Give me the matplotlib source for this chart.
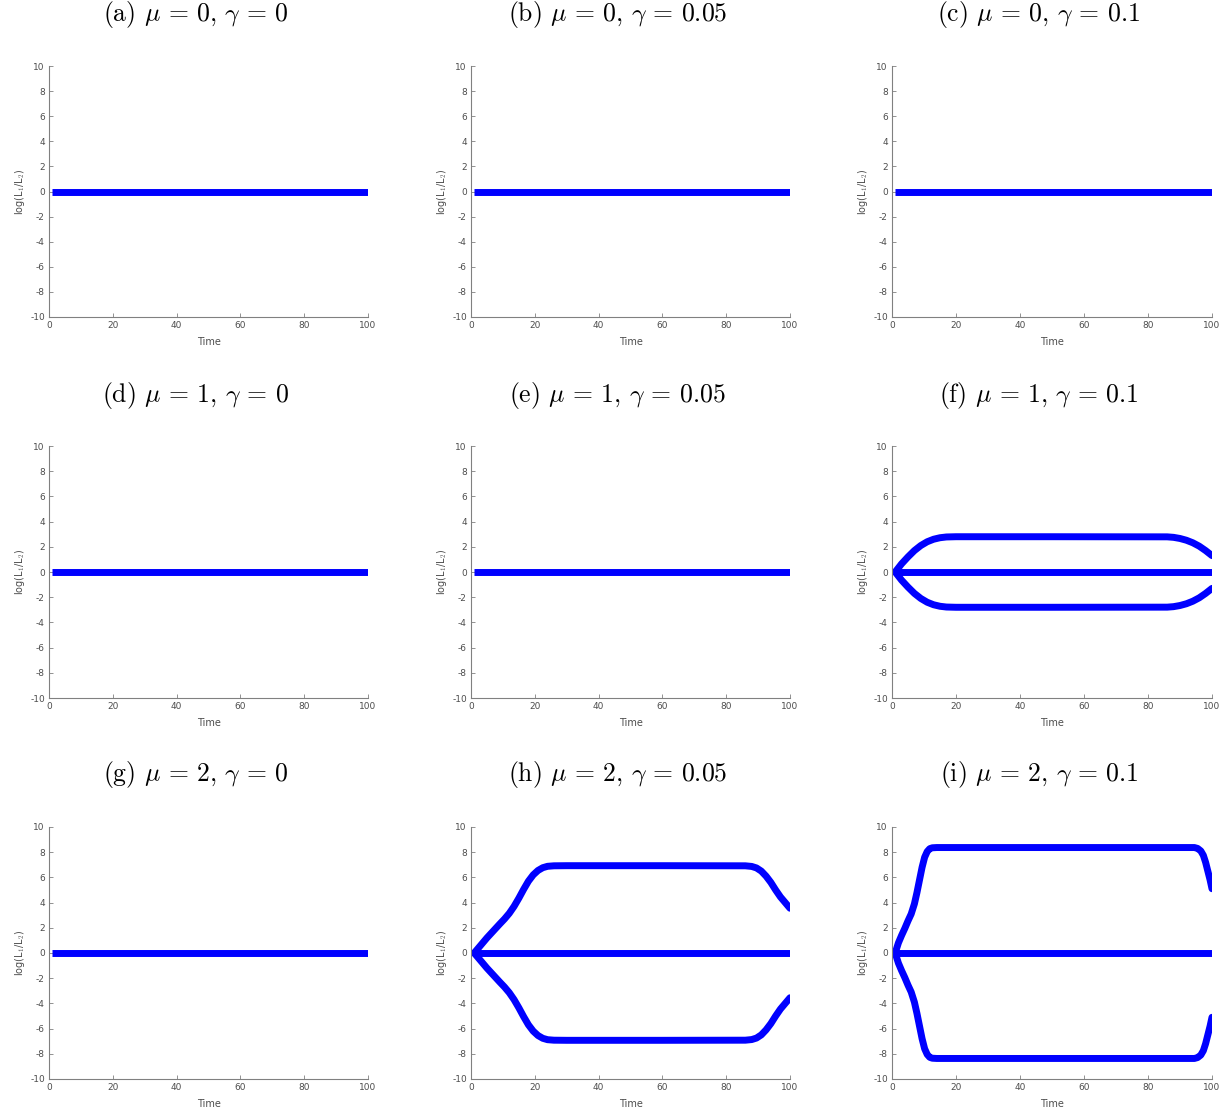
import numpy as np
import matplotlib
matplotlib.use("Agg")
import matplotlib.pyplot as plt

plt.rcParams['mathtext.fontset'] = 'cm'
plt.rcParams['axes.unicode_minus'] = False

# panel titles (row by row)
labels = ['(a)', '(b)', '(c)', '(d)', '(e)', '(f)', '(g)', '(h)', '(i)']
mus = [0, 0, 0, 1, 1, 1, 2, 2, 2]
gammas = ['0', '0.05', '0.1', '0', '0.05', '0.1', '0', '0.05', '0.1']

# flat line at zero (all panels)
t_zero = [1, 100]
y_zero = [0, 0]

# panel (f) upper branch (lower branch is its mirror)
t_f = [1, 3, 5, 7, 9, 11, 13, 15, 17, 20, 50, 86, 88, 90, 92, 94, 96, 98, 100]
y_f = [0, 0.65, 1.2, 1.7, 2.1, 2.4, 2.6, 2.72, 2.78, 2.8, 2.8, 2.79, 2.75, 2.66, 2.52, 2.32, 2.05, 1.7, 1.3]

# panel (h) upper branch
t_h = [1, 3, 5, 7, 9, 10.5, 12, 13.5, 15, 16.5, 18, 19.5, 21, 22.5, 24, 26, 30, 60, 86, 88, 89.5, 91,
       92.5, 94, 95.5, 97, 98.5, 100]
y_h = [0, 0.6, 1.2, 1.75, 2.3, 2.7, 3.15, 3.7, 4.35, 5.05, 5.7, 6.2, 6.55, 6.77, 6.88, 6.92, 6.93, 6.93, 6.92, 6.87,
       6.75, 6.5, 6.1, 5.6, 5.0, 4.45, 4.0, 3.55]

# panel (i) upper branch
t_i = [1, 2, 3, 4, 5, 6, 7, 7.8, 8.6, 9.4, 10.2, 11, 11.8, 12.6, 14, 20, 60, 94.5, 95.5, 96.5, 97.3,
       98, 98.7, 99.4, 100]
y_i = [0, 0.8, 1.4, 1.95, 2.55, 3.1, 3.9, 4.8, 5.8, 6.8, 7.6, 8.05, 8.28, 8.35, 8.37, 8.37, 8.37, 8.37, 8.3,
       8.1, 7.75, 7.2, 6.5, 5.8, 5.1]

branches = {5: (t_f, y_f), 7: (t_h, y_h), 8: (t_i, y_i)}

fig = plt.figure(figsize=(12.29, 11.13), dpi=100)
W, H = 1229, 1113
lefts = [49, 471, 892]
rights = [368, 790, 1212]
tops = [66, 446, 827]
bottoms = [317, 698, 1079]
title_y = [15, 395, 775]

gray = '#808080'
for k in range(9):
    r, c = divmod(k, 3)
    ax = fig.add_axes([lefts[c] / W, 1 - bottoms[r] / H,
                       (rights[c] - lefts[c]) / W, (bottoms[r] - tops[r]) / H])
    ax.plot(t_zero, y_zero, color='#0000ff', lw=5, solid_capstyle='butt')
    if k in branches:
        tt, yy = branches[k]
        ax.plot(tt, yy, color='#0000ff', lw=5, solid_capstyle='round', solid_joinstyle='round')
        ax.plot(tt, [-v for v in yy], color='#0000ff', lw=5, solid_capstyle='round', solid_joinstyle='round')
    ax.set_xlim(0, 100)
    ax.set_ylim(-10, 10)
    ax.set_xticks(range(0, 101, 20))
    ax.set_yticks(range(-10, 11, 2))
    for s in ['top', 'right']:
        ax.spines[s].set_visible(False)
    for s in ['left', 'bottom']:
        ax.spines[s].set_color(gray)
        ax.spines[s].set_linewidth(0.8)
    ax.tick_params(direction='in', length=3, width=0.6, colors=gray,
                   labelsize=6.5, labelcolor='#4d4d4d', pad=3)
    ax.set_xlabel('Time', fontsize=7, color='#4d4d4d', labelpad=5)
    ax.set_ylabel(r'log(L$_1$/L$_2$)', fontsize=7, color='#4d4d4d', labelpad=2)
    # caption sits a little left of the axes centre (centred on the whole subfigure)
    cx = ((lefts[c] + rights[c]) / 2 - 13) / W
    title = labels[k] + r' $\mu\,=\,%d$, $\gamma\,=\,%s$' % (mus[k], gammas[k])
    fig.text(cx, 1 - title_y[r] / H, title, ha='center', va='center',
             fontsize=18.5, family='cmr10')

fig.savefig('out.png', dpi=100)
